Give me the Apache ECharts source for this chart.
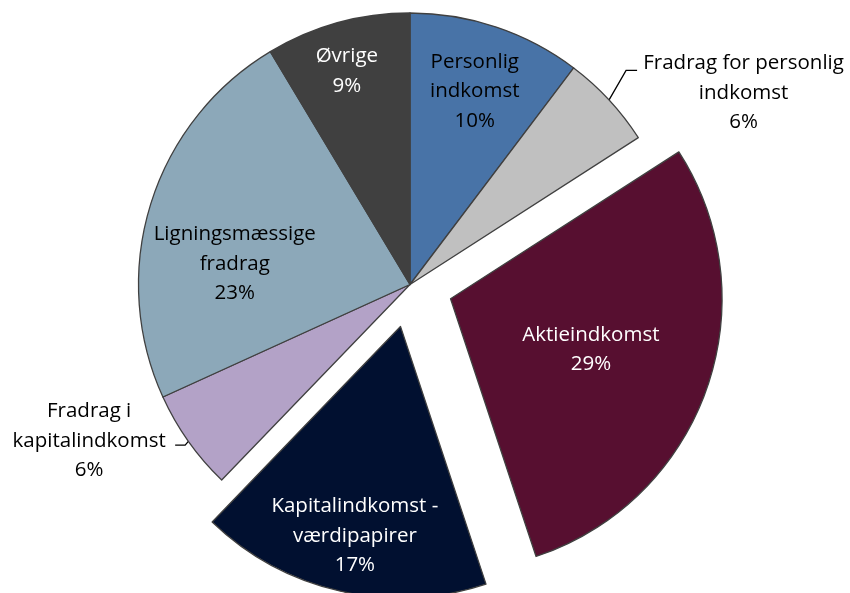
<!DOCTYPE html>
<html>
<head>
<meta charset="utf-8">
<script src="https://cdn.jsdelivr.net/npm/echarts@6/dist/echarts.min.js"></script>
<style>
html,body{margin:0;padding:0;background:#fff;}
#chart{width:850px;height:593px;}
</style>
</head>
<body>
<div id="chart"></div>
<script>
// fordeling (andel i pct.), med uret fra kl. 12
const categories = ['Personlig indkomst', 'Fradrag for personlig indkomst', 'Aktieindkomst',
    'Kapitalindkomst - værdipapirer', 'Fradrag i kapitalindkomst', 'Ligningsmæssige fradrag', 'Øvrige'];
const shares = [10.3, 5.6, 29.0, 17.3, 6.0, 23.2, 8.6];
const exploded = ['Aktieindkomst', 'Kapitalindkomst - værdipapirer'];

// label text as wrapped in the figure
const wrapped = {
    'Personlig indkomst': 'Personlig\nindkomst',
    'Fradrag for personlig indkomst': 'Fradrag for personlig\nindkomst',
    'Aktieindkomst': 'Aktieindkomst',
    'Kapitalindkomst - værdipapirer': 'Kapitalindkomst -\nværdipapirer',
    'Fradrag i kapitalindkomst': 'Fradrag i\nkapitalindkomst',
    'Ligningsmæssige fradrag': 'Ligningsmæssige\nfradrag',
    'Øvrige': 'Øvrige'
};
const colors = {
    'Personlig indkomst': '#4873a7',
    'Fradrag for personlig indkomst': '#c0c0c0',
    'Aktieindkomst': '#570f30',
    'Kapitalindkomst - værdipapirer': '#011030',
    'Fradrag i kapitalindkomst': '#b3a2c7',
    'Ligningsmæssige fradrag': '#8ca8b9',
    'Øvrige': '#404040'
};
const textColor = {
    'Aktieindkomst': '#fff', 'Kapitalindkomst - værdipapirer': '#fff', 'Øvrige': '#fff'
};

// pie geometry (px)
const CX = 410, CY = 284.5, R = 271.5, OFF = 43;
const FONT = 20.5, LH = 29.5;

// label placement: inside -> radius fraction + turn (deg); outside -> leader line
const place = {
    'Personlig indkomst': { r: 0.75, turn: 0 },
    'Aktieindkomst': { r: 0.55, turn: 0.5 },
    'Kapitalindkomst - værdipapirer': { r: 0.79, turn: -0.5 },
    'Ligningsmæssige fradrag': { r: 0.65, turn: -10.5 },
    'Øvrige': { r: 0.82, turn: -1 },
    'Fradrag for personlig indkomst': { out: 1, dir: 30, len: 34, len2: 11, gap: 4, w: 205, dy: 22.5 },
    'Fradrag i kapitalindkomst': { out: -1, dir: 220, len: 5, len2: 10, gap: 6, w: 160, dy: -4 }
};

const total = shares.reduce((a, b) => a + b, 0);
let acc = 0;
const geo = shares.map(function (v, i) {
    const mid = (acc + v / 2) / total * 360;
    acc += v;
    const m = mid * Math.PI / 180;
    const o = exploded.indexOf(categories[i]) >= 0 ? OFF : 0;
    return { mid: mid, ax: CX + o * Math.sin(m), ay: CY - o * Math.cos(m) };
});

function pt(x, y, deg, r) {
    const a = deg * Math.PI / 180;
    return [x + r * Math.sin(a), y - r * Math.cos(a)];
}

function labelLayout(p) {
    const i = p.dataIndex;
    const g = geo[i];
    const P = place[categories[i]];
    if (!P.out) {
        const c = pt(g.ax, g.ay, g.mid + P.turn, P.r * R);
        return { x: c[0], y: c[1], align: 'center', verticalAlign: 'middle' };
    }
    const p0 = pt(g.ax, g.ay, g.mid, R);
    const p1 = pt(p0[0], p0[1], P.dir, P.len);
    const p2 = [p1[0] + P.out * P.len2, p1[1]];
    return {
        x: p2[0] + P.out * (P.gap + P.w / 2),
        y: p2[1] + P.dy,
        align: 'center',
        verticalAlign: 'middle',
        labelLinePoints: [p0, p1, p2]
    };
}

// one series for the closed pie, one per pulled-out slice (same data, shifted centre)
function makeSeries(focus) {
    const data = categories.map(function (name, i) {
        const visible = focus ? name === focus : exploded.indexOf(name) < 0;
        const P = place[name];
        const item = { name: name, value: shares[i] };
        if (!visible) {
            item.itemStyle = { color: 'rgba(0,0,0,0)', borderWidth: 0 };
            item.label = { show: false };
            item.labelLine = { show: false };
            return item;
        }
        item.itemStyle = { color: colors[name] };
        item.label = { color: textColor[name] || '#000' };
        if (P.out) {
            item.label.width = P.w;
            item.labelLine = { show: true };
        } else {
            item.label.position = 'inside';
        }
        return item;
    });
    let c = [CX, CY];
    if (focus) {
        const g = geo[categories.indexOf(focus)];
        c = [g.ax, g.ay];
    }
    return {
        type: 'pie',
        center: c,
        radius: R,
        startAngle: 90,
        clockwise: true,
        avoidLabelOverlap: false,
        silent: true,
        itemStyle: { borderColor: '#404040', borderWidth: 1.3 },
        emphasis: { disabled: true },
        label: {
            fontFamily: 'Open Sans',
            fontSize: FONT,
            lineHeight: LH,
            align: 'center',
            overflow: 'none',
            formatter: function (p) {
                return wrapped[p.name] + '\n' + Math.round(p.percent) + '%';
            }
        },
        labelLine: {
            show: true,
            lineStyle: { color: '#000', width: 1.3 }
        },
        labelLayout: labelLayout,
        data: data
    };
}

const chart = echarts.init(document.getElementById('chart'), null, { renderer: 'canvas' });
chart.setOption({
    animation: false,
    backgroundColor: '#fff',
    series: [makeSeries(null)].concat(exploded.map(makeSeries))
});
</script>
</body>
</html>
